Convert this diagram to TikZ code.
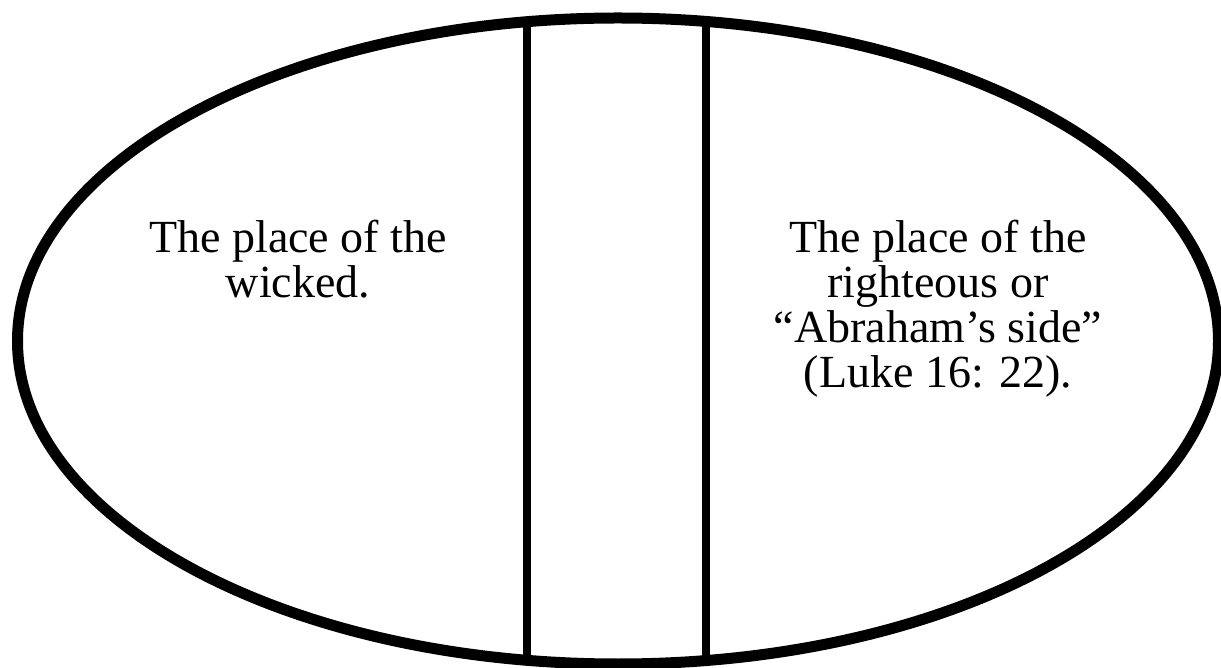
\documentclass[tikz,border=0pt]{standalone}
\usepackage{fontspec}
\setmainfont{Liberation Serif}
\usetikzlibrary{positioning}

\tikzset{
  placetext/.style={anchor=north, inner sep=0pt, align=center,
    font=\fontsize{46}{45}\selectfont},
}

\begin{document}
\begin{tikzpicture}[x=1pt,y=1pt]
\path[use as bounding box] (0,0) rectangle (1221,667);
\draw[line width=11pt] (618,326) ellipse (600.5 and 323);
\draw[line width=8pt] (527,6.5) -- (527,645.5);
\draw[line width=8pt] (706,6.5) -- (706,645.5);
\node[placetext] (wicked) at (298,447) {The place of the\\wicked.};
\node[placetext] (righteous) at (938,447) {The place of the\\righteous or\\“Abraham’s side”\\(Luke 16: 22).};
\end{tikzpicture}
\end{document}
